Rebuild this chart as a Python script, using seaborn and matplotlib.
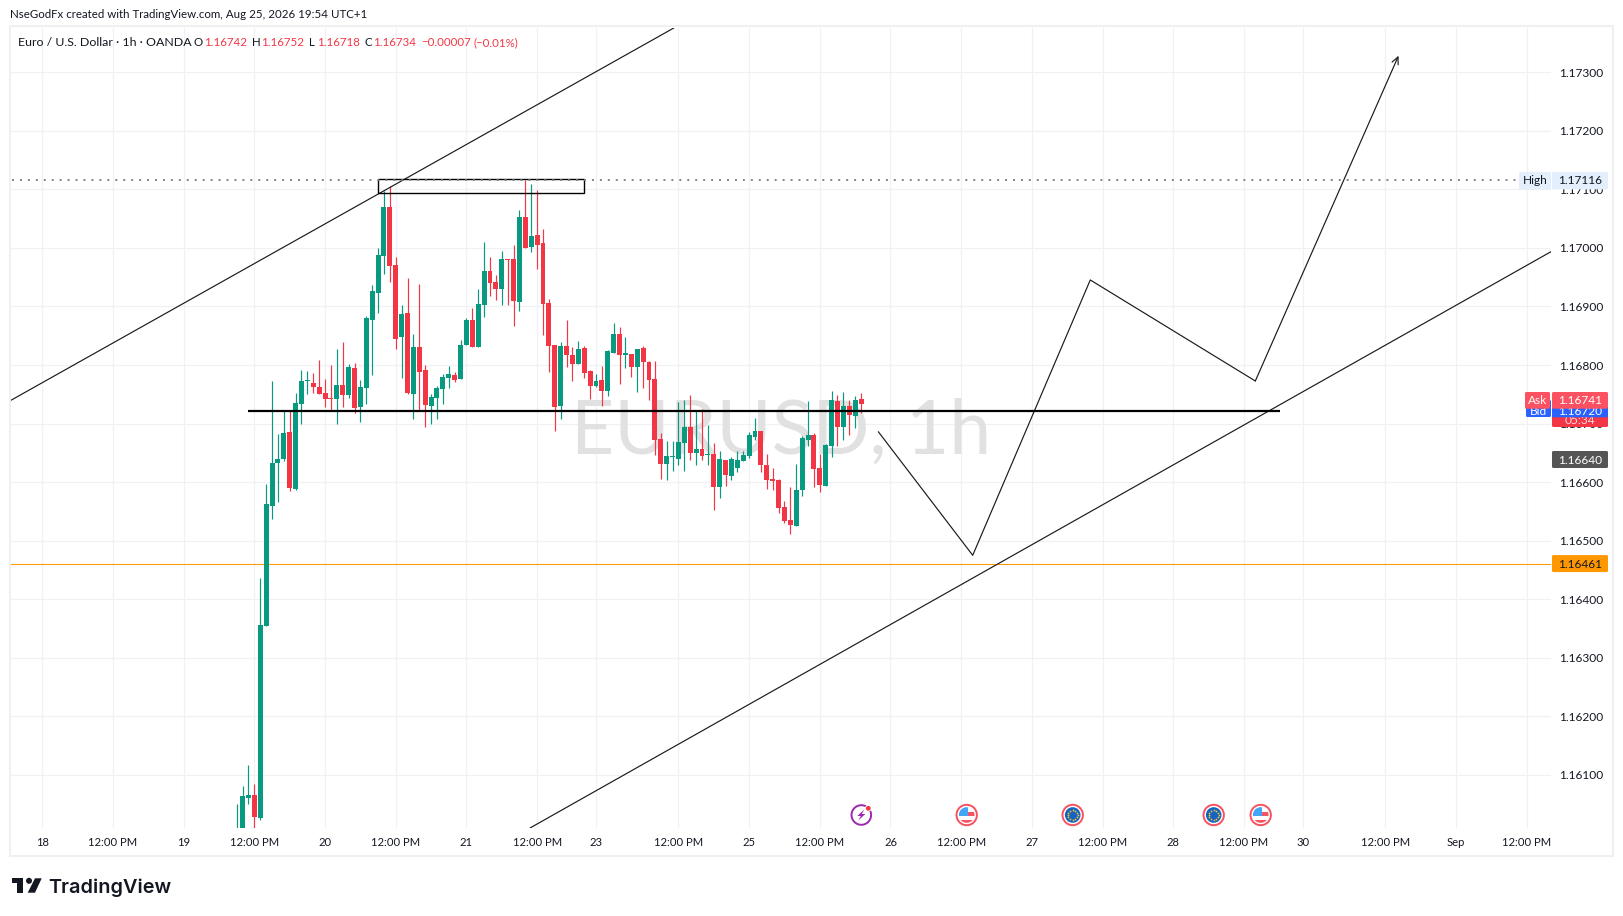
import numpy as np
import matplotlib
matplotlib.use("Agg")
import matplotlib.pyplot as plt
from matplotlib.patches import Circle, Rectangle, Polygon, FancyBboxPatch
import seaborn as sns

opens = [1.1595,1.1598,1.160608,1.16066,1.160273,1.16355,1.165598,1.166327,1.1664,1.166857,
 1.165883,1.167335,1.167728,1.167693,1.167625,1.167523,1.167437,1.16742,1.167659,1.167489,
 1.16795,1.167284,1.167608,1.168769,1.16923,1.169861,1.170698,1.169708,1.168479,1.168888,
 1.167506,1.168308,1.167915,1.167301,1.167437,1.167591,1.167779,1.16783,1.167762,1.168342,
 1.168769,1.168308,1.169025,1.169605,1.169417,1.169298,1.16981,1.16981,1.169076,1.170527,
 1.170015,1.17022,1.170083,1.169059,1.168342,1.167301,1.168325,1.168171,1.168018,1.168291,
 1.167898,1.167642,1.167744,1.167557,1.168205,1.16853,1.168171,1.168188,1.167966,1.168291,
 1.168052,1.167761,1.166737,1.16631,1.16643,1.166396,1.166669,1.166942,1.166498,1.166567,
 1.166464,1.166481,1.165918,1.166379,1.166106,1.166242,1.166362,1.166447,1.166771,1.166874,
 1.166293,1.166054,1.166037,1.165577,1.165355,1.165252,1.165867,1.16672,1.166806,1.166242,
 1.165935,1.166618,1.167386,1.166942,1.167301,1.16713,1.16742]
highs = [1.160506,1.160813,1.161172,1.160847,1.164364,1.165968,1.167728,1.166823,1.167215,1.167215,
 1.167523,1.167915,1.167898,1.167864,1.168086,1.167762,1.168001,1.168274,1.168393,1.168018,
 1.168035,1.167745,1.168837,1.169366,1.169998,1.170971,1.171056,1.169844,1.169025,1.169486,
 1.16853,1.169383,1.168001,1.167506,1.167642,1.167847,1.167984,1.167881,1.168427,1.168803,
 1.168974,1.169298,1.1701,1.169844,1.169537,1.169947,1.16981,1.170049,1.170646,1.171159,
 1.17109,1.170988,1.170322,1.169127,1.168342,1.168393,1.168769,1.168308,1.16841,1.168325,
 1.167915,1.167847,1.167983,1.168256,1.168717,1.168649,1.168478,1.168188,1.168274,1.168325,
 1.168069,1.168069,1.16684,1.166703,1.166703,1.167369,1.167403,1.167488,1.167215,1.167249,
 1.166976,1.166669,1.166532,1.166379,1.16643,1.166532,1.166532,1.166857,1.167096,1.166874,
 1.166481,1.166242,1.166054,1.165679,1.165918,1.16631,1.166788,1.167386,1.16684,1.166481,
 1.166652,1.167557,1.167488,1.16754,1.167403,1.167471,1.16752]
lows = [1.159,1.1595,1.160506,1.1599,1.160233,1.16355,1.165371,1.165661,1.16636,1.165849,
 1.165866,1.166994,1.167506,1.167523,1.167506,1.167284,1.167215,1.166994,1.167284,1.167437,
 1.167181,1.167028,1.167335,1.16783,1.168888,1.169554,1.169417,1.168274,1.167779,1.167506,
 1.167079,1.167215,1.166942,1.166994,1.167079,1.167335,1.167608,1.16771,1.167762,1.168342,
 1.168308,1.168308,1.16882,1.169178,1.16911,1.169025,1.169025,1.168666,1.168922,1.169998,
 1.16993,1.169639,1.168513,1.167881,1.166874,1.167079,1.167966,1.167727,1.168018,1.167779,
 1.16742,1.167625,1.167301,1.167471,1.168205,1.167676,1.167949,1.167796,1.16754,1.167608,
 1.167403,1.166464,1.166054,1.166037,1.166191,1.166293,1.166191,1.166379,1.166293,1.166379,
 1.166293,1.165525,1.16573,1.165935,1.166037,1.166174,1.166362,1.166413,1.16672,1.166174,
 1.165884,1.165867,1.165474,1.165303,1.165116,1.165252,1.165764,1.166618,1.165918,1.165833,
 1.165935,1.16643,1.166618,1.16672,1.166806,1.166925,1.16718]
closes = [1.1597,1.160642,1.16066,1.16029,1.163561,1.165627,1.166327,1.1664,1.16684,1.165906,
 1.167352,1.167728,1.167745,1.167625,1.167506,1.16742,1.16742,1.167659,1.167489,1.167967,
 1.167267,1.167625,1.168803,1.169264,1.169878,1.170698,1.169691,1.168444,1.168871,1.167523,
 1.168308,1.167881,1.167318,1.167454,1.167608,1.167796,1.167847,1.167745,1.168342,1.168769,
 1.168308,1.169042,1.169605,1.1694,1.169298,1.16981,1.169793,1.169093,1.170527,1.169998,
 1.170203,1.170049,1.169042,1.168325,1.167284,1.168325,1.168171,1.168018,1.168274,1.167864,
 1.167642,1.167727,1.167557,1.168239,1.16853,1.168171,1.168205,1.167966,1.168274,1.168052,
 1.167744,1.16672,1.16631,1.166447,1.166447,1.166686,1.166942,1.166498,1.166567,1.166447,
 1.166481,1.165918,1.166396,1.166123,1.166396,1.166379,1.166464,1.166806,1.166874,1.166293,
 1.166037,1.16602,1.165559,1.165338,1.165269,1.165867,1.166754,1.166806,1.166225,1.165952,
 1.166635,1.167403,1.166942,1.167301,1.167147,1.167403,1.16734]

price_ticks = [1.161,1.162,1.163,1.164,1.165,1.166,1.167,1.168,1.169,1.170,1.171,1.172,1.173]
time_ticks = [-33,-21,-9,3,15,27,39,51,61,75,87,99,111,123,135,147,159,171,181,195,207,219]
time_labels = ["18","12:00 PM","19","12:00 PM","20","12:00 PM","21","12:00 PM","23","12:00 PM","25",
               "12:00 PM","26","12:00 PM","27","12:00 PM","28","12:00 PM","30","12:00 PM","Sep","12:00 PM"]

upper_trend_x, upper_trend_y = [-38.43, 74.21], [1.167392, 1.173754]
lower_trend_x, lower_trend_y = [49.8, 223.14], [1.160095, 1.169935]
zigzag_x = [108.93, 124.96, 144.92, 172.94, 197.25]
zigzag_y = [1.166861, 1.164751, 1.169452, 1.167727, 1.17328]
box_x = [24.04, 58.9]
box_y = [1.170932, 1.171181]
level_x, level_y = [1.97, 177.2], 1.16722
high_price, orange_price = 1.17116, 1.16461

UP, DOWN = "#089981", "#f23645"
INK = "#131722"
GRID = "#f0f1f4"
FONT = "Lato"
TXT = 8.3
PRICE = 8.6

sns.set_theme(style="white")
plt.rcParams["font.family"] = [FONT, "DejaVu Sans"]

W, H = 1623, 916
fig = plt.figure(figsize=(W / 100, H / 100), dpi=100, facecolor="white")
L, R, T, B = 10, 1551, 28, 828
ax = fig.add_axes([L / W, 1 - B / H, (R - L) / W, (B - T) / H])
ax.set_xlim(-38.49, 223.14)
ax.set_ylim(1.160095, 1.173754)
for s in ax.spines.values():
    s.set_visible(False)
ax.set_axisbelow(True)
ax.set_yticks(price_ticks)
ax.set_yticklabels([f"{p:.5f}" for p in price_ticks])
ax.set_xticks(time_ticks)
ax.set_xticklabels(time_labels)
ax.yaxis.tick_right()
ax.tick_params(axis="y", length=0, pad=6, labelsize=PRICE, labelcolor=INK)
ax.tick_params(axis="x", length=0, pad=6.3, labelsize=8.1, labelcolor=INK)
ax.grid(True, color=GRID, lw=0.9)

ax.text(56.8, 1.166481, "EURUSD, 1h", fontsize=54, color="#e1e1e2", ha="left", va="baseline", zorder=1)

x = np.arange(len(opens))
o, h, l, c = map(np.array, (opens, highs, lows, closes))
up = c >= o
for mask, col in ((up, UP), (~up, DOWN)):
    ax.vlines(x[mask], l[mask], h[mask], color=col, lw=0.85, zorder=2)
    ax.bar(x[mask], np.abs(c - o)[mask], bottom=np.minimum(o, c)[mask], width=0.84,
           color=col, linewidth=0, zorder=2.2)

line_kw = dict(estimator=None, sort=False, color="#1a1a1a", lw=0.85, ax=ax, legend=False, zorder=3)
sns.lineplot(x=upper_trend_x, y=upper_trend_y, **line_kw)
sns.lineplot(x=lower_trend_x, y=lower_trend_y, **line_kw)
sns.lineplot(x=zigzag_x[:-1], y=zigzag_y[:-1], **line_kw)
ax.annotate("", xy=(zigzag_x[-1], zigzag_y[-1]), xytext=(zigzag_x[-2], zigzag_y[-2]), zorder=3,
            arrowprops=dict(arrowstyle="->,head_length=0.42,head_width=0.2", color="#1a1a1a",
                            lw=0.85, shrinkA=0, shrinkB=0))
ax.add_patch(Rectangle((box_x[0], box_y[0]), box_x[1] - box_x[0], box_y[1] - box_y[0],
                       fill=False, ec="black", lw=1.0, zorder=3))
ax.hlines(level_y, level_x[0], level_x[1], color="black", lw=1.6, zorder=3.2)
ax.hlines(orange_price, -38.49, 223.14, color="#ff9800", lw=0.75, zorder=1.5)
ax.plot([-38.2, 217.7], [high_price, high_price], color="#787b86", lw=1.3,
        linestyle=(0, (1.1, 3.3)), zorder=3.5)
ax.set_xlabel("")
ax.set_ylabel("")

ov = fig.add_axes([0, 0, 1, 1], facecolor="none")
ov.set_xlim(0, W)
ov.set_ylim(H, 0)
ov.axis("off")


def py(price):
    return H - ax.transData.transform((0, price))[1]


def tag(x0, x1, y0, y1, col, z=5):
    ov.add_patch(FancyBboxPatch((x0, y0), x1 - x0, y1 - y0, boxstyle="round,pad=0,rounding_size=1.5",
                                fc=col, ec="none", zorder=z))


def tag_text(xc, yc, s, col, z=5.1, size=PRICE):
    ov.text(xc, yc, s, color=col, fontsize=size, ha="center", va="center", zorder=z)


# frame
ov.add_patch(Rectangle((9.5, 26), 1603, 829.5, fill=False, ec="#f0f0f2", lw=1.5, zorder=0.5))

# header
ov.text(10, 15, "NseGodFx created with TradingView.com, Aug 25, 2026 19:54 UTC+1", fontsize=TXT, color=INK,
        ha="left", va="center")
ov.text(18, 42.5, "Euro / U.S. Dollar · 1h · OANDA", fontsize=8.9, color=INK, ha="left", va="center")
RED = "#f23645"
for xp, s, col in [(194, "O", INK), (203.6, f"{opens[-1]:.5f}", RED), (251.8, "H", INK),
                   (260.7, f"{highs[-1]:.5f}", RED), (309, "L", INK), (317, f"{lows[-1]:.5f}", RED),
                   (364.6, "C", INK), (373, f"{closes[-1]:.5f}", RED), (421, "−0.00007", RED),
                   (474, "(−0.01%)", RED)]:
    ov.text(xp, 42.5, s, fontsize=TXT, color=col, ha="left", va="center")

# price tags
tag(1519, 1551, 172, 189.3, "#e3effd")
tag(1552, 1608, 172, 189.3, "#e3effd")
tag_text(1535, 180.5, "High", INK)
tag_text(1580, 180.5, f"{high_price:.5f}", INK)

tag(1552, 1608, 404, 427, "#f23645", 5.2)
tag_text(1580, 421, "05:34", "#ffd9dd", 5.3)
tag(1526, 1551, 400, 417, "#2962ff", 5.4)
tag_text(1538, 411.5, "Bid", "white", 5.5)
tag(1552, 1608, 400, 417.3, "#2962ff", 5.4)
tag_text(1580, 411.5, "1.16720", "white", 5.5)
tag(1525, 1550, 392, 408.7, "#fb5161", 5.6)
tag_text(1537.5, 401, "Ask", "white", 5.7)
tag(1552, 1608, 392, 408.7, "#fb5161", 5.6)
tag_text(1580, 401, "1.16741", "white", 5.7)

tag(1552, 1608, 451, 468, "#555555")
tag_text(1580, 460, "1.16640", "white")
tag(1552, 1608, py(orange_price) - 8.5, py(orange_price) + 8.5, "#ff9800")
tag_text(1580, py(orange_price) + 0.5, f"{orange_price:.5f}", INK)

# event icons
IY = 815


def ring(cx, col, z=6):
    ov.add_patch(Circle((cx, IY), 10.2, fc="white", ec=col, lw=1.4, zorder=z))


def us(cx):
    ring(cx, "#f7525f")
    clip = Circle((cx, IY), 7.8, transform=ov.transData)
    for (x0, y0, w, hh, col) in [(-8, -8, 16, 16, "white"), (-8, -8, 9, 9, "#42a5f5"), (1, -3, 7, 4, "#f7525f"),
                                 (-8, 4.5, 16, 4, "#f7525f")]:
        r = Rectangle((cx + x0, IY + y0), w, hh, fc=col, ec="none", zorder=6.2)
        ov.add_patch(r)
        r.set_clip_path(clip)


def eu(cx):
    ring(cx, "#f7525f")
    ov.add_patch(Circle((cx, IY), 7.8, fc="#1565c0", ec="none", zorder=6.2))
    t = np.linspace(0, 2 * np.pi, 12, endpoint=False)
    ov.scatter(cx + 4.9 * np.cos(t), IY + 4.9 * np.sin(t), s=1.6, c="#fbc02d", linewidths=0, zorder=6.3)


cx = 861.3
ov.add_patch(Circle((cx, IY), 9.8, fc="white", ec="#9c27b0", lw=1.4, zorder=6))
ov.add_patch(Polygon([(cx + 3, IY - 5.5), (cx - 4, IY + 1), (cx - 0.5, IY + 1), (cx - 3, IY + 5.5),
                      (cx + 4, IY - 1), (cx + 0.5, IY - 1)], fc="#9c27b0", ec="none", zorder=6.2))
ov.add_patch(Circle((cx + 7, IY - 6.7), 3.3, fc="white", ec="none", zorder=6.3))
ov.add_patch(Circle((cx + 7, IY - 6.7), 2.4, fc="#f23645", ec="none", zorder=6.4))
us(966.7)
eu(1072.7)
eu(1213.7)
us(1260.7)

# logo
LOGO = "#131722"
ov.add_patch(Polygon([(12, 878.3), (23.3, 878.3), (23.3, 892.7), (17.3, 892.7), (17.3, 883.3), (12, 883.3)],
                     fc=LOGO, ec="none"))
ov.add_patch(Circle((29, 880.8), 3, fc=LOGO, ec="none"))
ov.add_patch(Polygon([(41.7, 878.3), (35, 878.3), (27.7, 892.7), (35, 892.7)], fc=LOGO, ec="none"))
ov.text(48.5, 892.7, "TradingView", fontsize=14.3, fontfamily=["Inter", "DejaVu Sans"], fontweight="semibold",
        color=LOGO, ha="left", va="baseline")

fig.savefig("out.png", dpi=100)
